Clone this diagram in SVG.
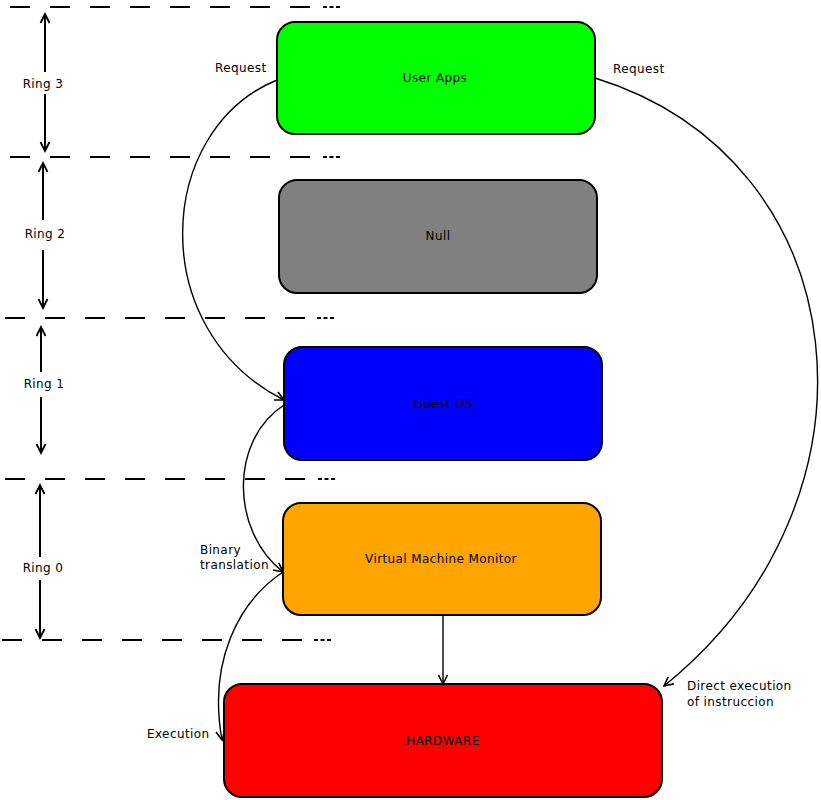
<svg xmlns="http://www.w3.org/2000/svg" width="821" height="800" viewBox="0 0 821 800">
<defs>
<style>
text{font-family:"DejaVu Sans",sans-serif;font-size:12px;letter-spacing:0.4px;fill:#000}
.node rect{stroke:#000;stroke-width:2}
.mid{text-anchor:middle}
.dash{stroke:#000;stroke-width:2;stroke-dasharray:20 20;fill:none}
.dots{stroke:#000;stroke-width:2;stroke-dasharray:4 2.5;fill:none}
.conn{stroke:#000;stroke-width:1.4;fill:none}
.ring{stroke:#000;stroke-width:2;fill:none}
</style>
<marker id="ah" markerWidth="12" markerHeight="12" refX="10" refY="5" orient="auto" markerUnits="userSpaceOnUse" viewBox="0 0 12 10">
<path d="M1,0.5 L10,5 L1,9.5" fill="none" stroke="#000" stroke-width="1.6"/>
</marker>
<marker id="ah2" markerWidth="12" markerHeight="12" refX="10" refY="5" orient="auto-start-reverse" markerUnits="userSpaceOnUse" viewBox="0 0 12 10">
<path d="M1,0.5 L10,5 L1,9.5" fill="none" stroke="#000" stroke-width="1.8"/>
</marker>
</defs>
<rect width="821" height="800" fill="#fff"/>

<g id="ring-lines">
<line class="dash" x1="10" y1="7" x2="310" y2="7"/><line class="dots" x1="323" y1="7" x2="340" y2="7"/>
<line class="dash" x1="10" y1="157" x2="310" y2="157"/><line class="dots" x1="323" y1="157" x2="340" y2="157"/>
<line class="dash" x1="5" y1="318" x2="305" y2="318"/><line class="dots" x1="317" y1="318" x2="335" y2="318"/>
<line class="dash" x1="5" y1="479" x2="305" y2="479"/><line class="dots" x1="318" y1="479" x2="335" y2="479"/>
<line class="dash" x1="2" y1="640" x2="302" y2="640"/><line class="dots" x1="314" y1="640" x2="331" y2="640"/>
</g>

<g id="ring3">
<line class="ring" x1="45" y1="72" x2="45" y2="14" marker-end="url(#ah2)"/>
<line class="ring" x1="45" y1="94" x2="45" y2="151" marker-end="url(#ah2)"/>
<text class="mid" x="43" y="88">Ring 3</text>
</g>
<g id="ring2">
<line class="ring" x1="43" y1="220" x2="43" y2="163" marker-end="url(#ah2)"/>
<line class="ring" x1="43" y1="250" x2="43" y2="308" marker-end="url(#ah2)"/>
<text class="mid" x="45" y="238">Ring 2</text>
</g>
<g id="ring1">
<line class="ring" x1="41" y1="372" x2="41" y2="327" marker-end="url(#ah2)"/>
<line class="ring" x1="41" y1="397" x2="41" y2="453" marker-end="url(#ah2)"/>
<text class="mid" x="44" y="388">Ring 1</text>
</g>
<g id="ring0">
<line class="ring" x1="40" y1="557" x2="40" y2="485" marker-end="url(#ah2)"/>
<line class="ring" x1="40" y1="580" x2="40" y2="638" marker-end="url(#ah2)"/>
<text class="mid" x="43" y="572">Ring 0</text>
</g>

<g id="user-apps" class="node">
<rect x="277" y="22" width="318" height="112" rx="18" fill="#00ff00"/>
<text class="mid" x="435" y="82">User Apps</text>
</g>
<g id="null" class="node">
<rect x="279" y="180" width="318" height="113" rx="18" fill="#808080"/>
<text class="mid" x="438" y="240">Null</text>
</g>
<g id="guest-os" class="node">
<rect x="284" y="347" width="318" height="113" rx="18" fill="#0000ff"/>
<text class="mid" x="443" y="408">Guest OS</text>
</g>
<g id="vmm" class="node">
<rect x="283" y="503" width="318" height="112" rx="18" fill="#ffa500"/>
<text class="mid" x="441" y="563">Virtual Machine Monitor</text>
</g>
<g id="hardware" class="node">
<rect x="224" y="684" width="438" height="113" rx="18" fill="#ff0000"/>
<text class="mid" x="443" y="745">HARDWARE</text>
</g>

<g id="connectors">
<path class="conn" d="M277,80 C155,130 145,330 284,400" marker-end="url(#ah)"/>
<path class="conn" d="M595,78 C860,160 895,500 664,686" marker-end="url(#ah)"/>
<path class="conn" d="M284,405 C230,440 230,530 283,572" marker-end="url(#ah)"/>
<path class="conn" d="M283,572 C238,602 208,662 222,740" marker-end="url(#ah)"/>
<line class="conn" x1="443" y1="615" x2="443" y2="684" marker-end="url(#ah)"/>
<text x="215" y="72">Request</text>
<text x="613" y="73">Request</text>
<text x="687" y="690">Direct execution</text>
<text x="687" y="706">of instruccion</text>
<text x="200" y="554">Binary</text>
<text x="200" y="569">translation</text>
<text x="147" y="738">Execution</text>
</g>
</svg>
